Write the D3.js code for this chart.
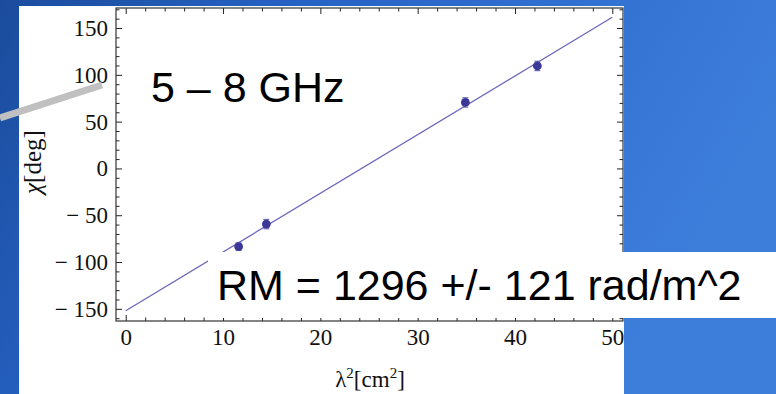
<!DOCTYPE html>
<html>
<head>
<meta charset="utf-8">
<script src="https://cdn.jsdelivr.net/npm/d3@7"></script>
<style>
  html, body { margin: 0; padding: 0; }
  body { width: 776px; height: 394px; overflow: hidden; }
  svg { display: block; }
</style>
</head>
<body>
<svg id="chart" width="776" height="394"></svg>
<script>
// measured points, lambda^2 in cm^2 and chi in degrees
var lambda2 = [11.6, 14.45, 34.9, 42.3]
  , chi = [-83.5, -59.5, 70.5, 109.5]
  , chiErr = [4, 5, 5, 5]

// fitted line ends
var fitX = [0, 50]
  , fitY = [-152, 161.5]

var xTicks = [0, 10, 20, 30, 40, 50]
  , yTicks = [-150, -100, -50, 0, 50, 100, 150]

var bandLabel = '5 \u2013 8 GHz'
  , rmLabel = 'RM = 1296 +/- 121 rad/m^2'

var svg = d3.select('#chart')
  , W = 776, H = 394
  , plot = { left: 116, right: 623, top: 8, bottom: 321 }
  , serif = '"Liberation Serif", "DejaVu Serif", serif'
  , sans = '"Liberation Sans", Arial, sans-serif'

// slide background
var defs = svg.append('defs')
var grad = defs.append('linearGradient').attr('id', 'bg')
  .attr('x1', 0).attr('y1', 0).attr('x2', 1).attr('y2', 0.3)
grad.append('stop').attr('offset', 0).attr('stop-color', '#1b4c9c')
grad.append('stop').attr('offset', 0.35).attr('stop-color', '#2662c4')
grad.append('stop').attr('offset', 1).attr('stop-color', '#3e7edb')
svg.append('rect').attr('width', W).attr('height', H).attr('fill', 'url(#bg)')

// white panel of the pasted plot
svg.append('rect').attr('x', 19).attr('y', 6)
  .attr('width', 624 - 19).attr('height', H - 6).attr('fill', '#fff')

var x = d3.scaleLinear().domain([-1, 51.1]).range([plot.left, plot.right])
  , y = d3.scaleLinear().domain([-163, 171.4]).range([plot.bottom, plot.top])

var fmt = function(d) { return d < 0 ? '\u2212 ' + Math.abs(d) : String(d) }

var minorX = d3.range(0, 51, 2).filter(function(d) { return xTicks.indexOf(d) < 0 })
  , minorY = d3.range(-160, 171, 10).filter(function(d) { return yTicks.indexOf(d) < 0 })

var addAxis = function(axis, tx, ty) {
  var g = svg.append('g')
    .attr('transform', 'translate(' + tx + ',' + ty + ')')
    .call(axis)
  g.select('.domain').remove()
  g.selectAll('line').attr('stroke', '#222')
  g.selectAll('text')
    .style('font-family', serif).style('font-size', '23px').style('fill', '#111')
  return g
}

// frame ticks on all four sides, pointing inward
addAxis(d3.axisBottom(x).tickValues(xTicks).tickFormat(fmt).tickSize(-6).tickPadding(8), 0, plot.bottom)
addAxis(d3.axisBottom(x).tickValues(minorX).tickFormat('').tickSize(-3.5), 0, plot.bottom)
addAxis(d3.axisTop(x).tickValues(xTicks).tickFormat('').tickSize(-6), 0, plot.top)
addAxis(d3.axisTop(x).tickValues(minorX).tickFormat('').tickSize(-3.5), 0, plot.top)
addAxis(d3.axisLeft(y).tickValues(yTicks).tickFormat(fmt).tickSize(-6).tickPadding(8), plot.left, 0)
addAxis(d3.axisLeft(y).tickValues(minorY).tickFormat('').tickSize(-3.5), plot.left, 0)
addAxis(d3.axisRight(y).tickValues(yTicks).tickFormat('').tickSize(-6), plot.right, 0)
addAxis(d3.axisRight(y).tickValues(minorY).tickFormat('').tickSize(-3.5), plot.right, 0)

svg.append('rect')
  .attr('x', plot.left).attr('y', plot.top)
  .attr('width', plot.right - plot.left).attr('height', plot.bottom - plot.top)
  .attr('fill', 'none').attr('stroke', '#333').attr('stroke-width', 1.2)

// axis titles
svg.append('text')
  .attr('transform', 'translate(41,162) rotate(-90)')
  .attr('text-anchor', 'middle')
  .style('font-family', serif).style('font-size', '25px').style('fill', '#111')
  .html('<tspan font-style="italic">\u03c7</tspan>[deg]')

svg.append('text')
  .attr('x', 370).attr('y', 387)
  .attr('text-anchor', 'middle')
  .style('font-family', serif).style('font-size', '23px').style('fill', '#111')
  .html('\u03bb<tspan dy="-9" font-size="15">2</tspan><tspan dy="9">[cm</tspan><tspan dy="-9" font-size="15">2</tspan><tspan dy="9">]</tspan>')

// fit line
svg.append('line')
  .attr('x1', x(fitX[0])).attr('y1', y(fitY[0]))
  .attr('x2', x(fitX[1])).attr('y2', y(fitY[1]))
  .attr('stroke', '#6c68ba').attr('stroke-width', 1.3)

// error bars and points
var pts = svg.append('g').selectAll('g')
  .data(lambda2.map(function(l, i) { return { l: l, c: chi[i], e: chiErr[i] } }))
  .enter().append('g')

pts.append('line')
  .attr('x1', function(d) { return x(d.l) }).attr('x2', function(d) { return x(d.l) })
  .attr('y1', function(d) { return y(d.c - d.e) }).attr('y2', function(d) { return y(d.c + d.e) })
  .attr('stroke', '#7471bd').attr('stroke-width', 1.3)
;[-1, 1].forEach(function(s) {
  pts.append('line')
    .attr('x1', function(d) { return x(d.l) - 3 }).attr('x2', function(d) { return x(d.l) + 3 })
    .attr('y1', function(d) { return y(d.c + s * d.e) }).attr('y2', function(d) { return y(d.c + s * d.e) })
    .attr('stroke', '#7471bd').attr('stroke-width', 1.2)
})
pts.append('circle')
  .attr('cx', function(d) { return x(d.l) }).attr('cy', function(d) { return y(d.c) })
  .attr('r', 4.4).attr('fill', '#3b3898')

// slide annotations
svg.append('line')
  .attr('x1', 0).attr('y1', 118).attr('x2', 102).attr('y2', 85)
  .attr('stroke', '#c0c0c0').attr('stroke-width', 7)

svg.append('text')
  .attr('x', 151).attr('y', 102)
  .style('font-family', sans).style('font-size', '43px').style('fill', '#000')
  .text(bandLabel)

svg.append('rect').attr('x', 208).attr('y', 252)
  .attr('width', W - 208).attr('height', 66).attr('fill', '#fff')
svg.append('text')
  .attr('x', 217).attr('y', 300)
  .style('font-family', sans).style('font-size', '43px').style('fill', '#000')
  .text(rmLabel)
</script>
</body>
</html>
